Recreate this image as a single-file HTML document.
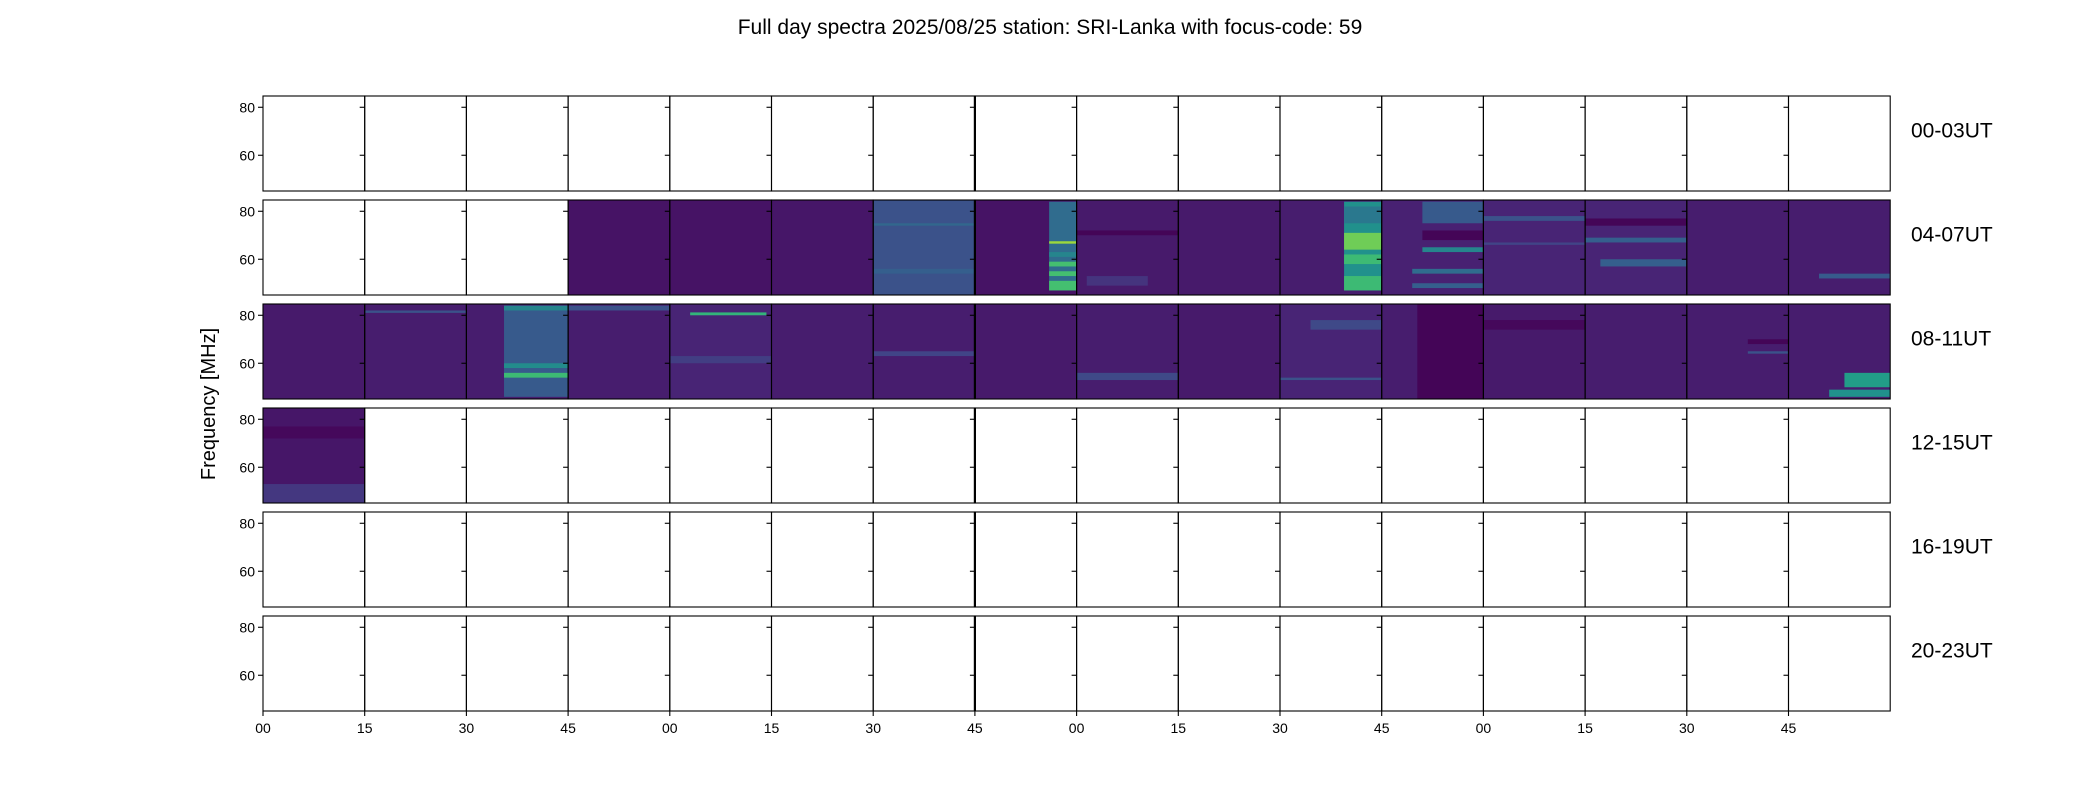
<!DOCTYPE html>
<html><head><meta charset="utf-8"><style>
html,body{margin:0;padding:0;background:#fff;}
svg{display:block;font-family:"Liberation Sans",sans-serif;}
</style></head><body>
<svg id="fig" width="2100" height="800" viewBox="0 0 2100 800" xmlns="http://www.w3.org/2000/svg">
<text x="1050" y="34" font-size="21" text-anchor="middle" fill="#000">Full day spectra 2025/08/25 station: SRI-Lanka with focus-code: 59</text>
<text x="0" y="0" font-size="20" text-anchor="middle" fill="#000" transform="translate(215,404) rotate(-90)">Frequency [MHz]</text>
<g id="panels"></g>
</svg>
<script>
// ---- data ----
const rowLabels = ["00-03UT","04-07UT","08-11UT","12-15UT","16-19UT","20-23UT"];
const xTickLabels = ["00","15","30","45","00","15","30","45","00","15","30","45","00","15","30","45"];
const yTicks = [60, 80];
const freqMin = 45.1, freqMax = 84.7;
// base intensity per panel (null = no data)
const row0Base = [null,null,null,null,null,null,null,null,null,null,null,null,null,null,null,null];
const row1Base = [null,null,null,0.05,0.05,0.06,0.25,0.05,0.07,0.07,0.08,0.09,0.10,0.10,0.08,0.08];
const row2Base = [0.07,0.08,0.08,0.08,0.10,0.08,0.08,0.07,0.08,0.07,0.10,0.08,0.07,0.08,0.08,0.08];
const row3Base = [0.06,null,null,null,null,null,null,null,null,null,null,null,null,null,null,null];
const row4Base = [null,null,null,null,null,null,null,null,null,null,null,null,null,null,null,null];
const row5Base = [null,null,null,null,null,null,null,null,null,null,null,null,null,null,null,null];
// features: [row, panel, t0, t1, fLow, fHigh, intensity]
const features = [
 [1,6,0,1,54,56,0.3],[1,6,0,1,74,75,0.33],
 [1,7,0.73,1,47,84,0.35],[1,7,0.73,1,66.5,67.5,0.85],[1,7,0.73,1,57,59,0.7],[1,7,0.73,1,53,55,0.7],[1,7,0.73,1,47,51,0.7],[1,7,0.73,1,61,63,0.45],
 [1,8,0,1,70,72,0.01],[1,8,0.1,0.7,49,53,0.15],
 [1,10,0.63,1,47,84,0.5],[1,10,0.63,1,64,71,0.78],[1,10,0.63,1,58,62,0.68],[1,10,0.63,1,47,53,0.68],[1,10,0.63,1,75,82,0.4],
 [1,11,0.4,1,75,84,0.28],[1,11,0.4,1,63,65,0.45],[1,11,0.3,1,54,56,0.35],[1,11,0.3,1,48,50,0.3],[1,11,0.4,1,68,72,0.01],
 [1,12,0,1,76,78,0.25],[1,12,0,1,66,67,0.2],
 [1,13,0,1,67,69,0.3],[1,13,0.15,1,57,60,0.3],[1,13,0,1,74,77,0.01],
 [1,15,0.3,1,52,54,0.28],
 [2,1,0,1,81,82,0.25],
 [2,2,0.37,1,46,84,0.28],[2,2,0.37,1,54,56,0.68],[2,2,0.37,1,58,60,0.48],[2,2,0.37,1,82,84,0.45],
 [2,3,0,1,82,84,0.25],
 [2,4,0.2,0.95,80,81.2,0.65],[2,4,0,1,60,63,0.18],
 [2,6,0,1,63,65,0.2],
 [2,8,0,1,53,56,0.22],
 [2,10,0.3,1,74,78,0.22],[2,10,0,1,53,54,0.25],
 [2,11,0.35,1,45.1,84.7,0.01],
 [2,12,0,1,74,78,0.02],
 [2,14,0.6,1,68,70,0.01],[2,14,0.6,1,64,65,0.25],
 [2,15,0.55,1,50,56,0.55],[2,15,0.4,1,46,49,0.5],
 [3,0,0,1,45.1,53,0.16],[3,0,0,1,72,77,0.02]
];
const rowBases = [row0Base,row1Base,row2Base,row3Base,row4Base,row5Base];

// ---- layout ----
const X0 = 263, PW = 101.7, NP = 16, Y0 = 96, RH = 95, RP = 104;
const viridis = ["#440154","#482475","#414487","#355f8d","#2a788e","#21918c","#22a884","#44bf70","#7ad151","#bddf26","#fde725"];
function hex(c){return [1,3,5].map(i=>parseInt(c.substr(i,2),16));}
function cmap(v){v=Math.max(0,Math.min(1,v));const p=v*10,i=Math.min(9,Math.floor(p)),f=p-i;
 const a=hex(viridis[i]),b=hex(viridis[i+1]);return "rgb("+a.map((x,k)=>Math.round(x+(b[k]-x)*f)).join(",")+")";}
function xScale(panel,t){return X0+panel*PW+t*PW;}
function yScale(row,f){return Y0+row*RP+(freqMax-f)/(freqMax-freqMin)*RH;}
const NS="http://www.w3.org/2000/svg";
const g=document.getElementById("panels");
function mk(tag,attrs,parent){const e=document.createElementNS(NS,tag);for(const k in attrs)e.setAttribute(k,attrs[k]);(parent||g).appendChild(e);return e;}

for(let r=0;r<6;r++){
 const bases=rowBases[r];
 for(let p=0;p<NP;p++){
  const v=bases[p];
  if(v!==null){
   const rect=mk("rect",{x:xScale(p,0),y:yScale(r,freqMax),width:PW,height:RH,fill:cmap(v)});
   
   
  }
 }
 const row=features.filter(f=>f[0]===r);
 row.forEach(f=>{
  const y1=yScale(r,f[5]),y2=yScale(r,f[4]);
  const rect=mk("rect",{x:xScale(f[1],f[2]),y:y1,width:(f[3]-f[2])*PW,height:y2-y1,fill:cmap(f[6])});
  
  
 });
 for(let p=0;p<NP;p++){
  const x=xScale(p,0);
  const fr=mk("rect",{x:x,y:Y0+r*RP,width:PW,height:RH,fill:"none",stroke:"#000","stroke-width":1.1});
  
  
  yTicks.forEach(t=>{
   const y=yScale(r,t);
   mk("line",{x1:x-5,x2:x,y1:y,y2:y,stroke:"#000","stroke-width":1.1});
   if(p===0){
    const tl=mk("text",{x:x-8,y:y+5,"font-size":14,"text-anchor":"end",fill:"#000"});
    tl.textContent=t;
    
    
   }
  });
 }
 mk("line",{x1:xScale(7,0),x2:xScale(7,0),y1:Y0+r*RP,y2:Y0+r*RP+RH,stroke:"#000","stroke-width":2.2});
 const lab=mk("text",{x:1911,y:Y0+r*RP+RH/2-6,"font-size":21,fill:"#000"});
 lab.textContent=rowLabels[r];
 
 
}
const by=Y0+5*RP+RH;
xTickLabels.forEach((s,i)=>{
 const x=xScale(i,0);
 mk("line",{x1:x,x2:x,y1:by,y2:by+5,stroke:"#000","stroke-width":1.1});
 const t=mk("text",{x:x,y:by+22,"font-size":14,"text-anchor":"middle",fill:"#000"});
 t.textContent=s;
 
 
});
</script>
</body></html>
